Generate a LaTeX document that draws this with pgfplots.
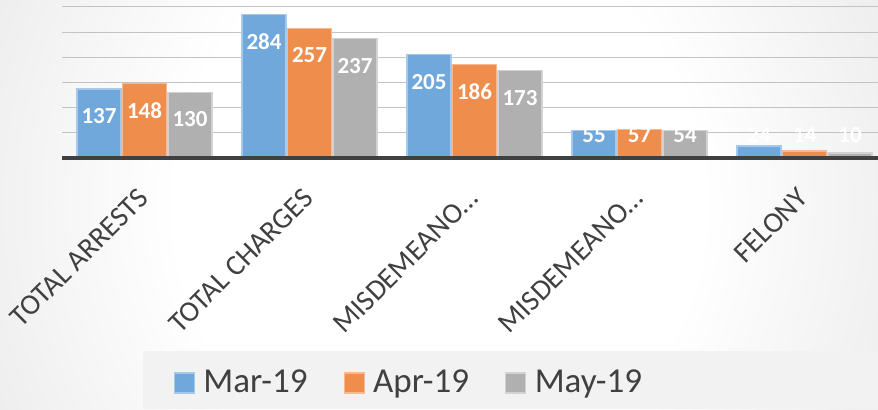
\documentclass[border=0pt]{standalone}
\usepackage{fontspec}
\setmainfont{Carlito}
\usepackage{pgfplots}
\pgfplotsset{compat=1.18}

\definecolor{cblue}{RGB}{112,168,220}
\definecolor{cblueb}{RGB}{165,200,235}
\definecolor{corange}{RGB}{239,141,76}
\definecolor{coranb}{RGB}{247,185,145}
\definecolor{cgray}{RGB}{176,176,176}
\definecolor{cgrayb}{RGB}{210,210,210}
\definecolor{textgray}{RGB}{64,64,64}
\definecolor{gridgray}{RGB}{195,195,195}
\definecolor{axisdark}{RGB}{64,64,64}
\definecolor{bgedge}{RGB}{207,207,207}
\definecolor{bgcorner}{RGB}{199,199,199}

\pgfdeclareradialshading{bgshade}{\pgfpoint{0bp}{0bp}}{%
  color(0bp)=(white); color(15bp)=(white); color(50bp)=(bgedge); color(80bp)=(bgcorner)}

\pgfplotsset{lbl/.style={only marks, mark=*, mark size=0pt, mark options={draw=none, fill=none},
  forget plot, nodes near coords, point meta=explicit symbolic,
  nodes near coords style={anchor=center, text=white,
    font=\bfseries\fontsize{11.5pt}{12pt}\selectfont, xshift=#1}}}

\begin{document}
\begin{tikzpicture}
\useasboundingbox (0pt,0pt) rectangle (439pt,204.5pt);
\begin{scope}
\clip (0pt,0pt) rectangle (439pt,204.5pt);
\shade[shading=bgshade] (0pt,-125pt) rectangle (439pt,330pt);
\fill[black!5] (71.5pt,0pt) rectangle (439pt,29pt);

\begin{axis}[
  at={(31pt,125.5pt)}, anchor=south west,
  scale only axis, width=412.5pt, height=88.2pt,
  xmin=-0.5, xmax=4.5, ymin=0, ymax=350,
  axis line style={draw=none},
  xtick={0,...,4},
  xticklabels={TOTAL ARRESTS,TOTAL CHARGES,MISDEMEANO…,MISDEMEANO…,FELONY},
  xtick style={draw=none},
  x tick label style={xshift=-4pt, yshift=-14pt, rotate=45, anchor=north east,
    inner sep=0pt, font=\fontsize{14.5pt}{16pt}\selectfont, text=textgray},
  ytick={50,100,...,350},
  yticklabels={},
  ytick style={draw=none},
  ymajorgrids,
  major grid style={draw=gridgray, line width=0.5pt},
  legend image code/.code={\draw[#1] (0pt,-5pt) rectangle (10pt,5pt);
    \path[draw=none, fill=none] (10pt,0pt) -- (12.5pt,0pt);},
  legend columns=3,
  legend style={at={(0.4218,-1.2755)}, anchor=center, draw=none, fill=none,
    font=\fontsize{17.5pt}{19pt}\selectfont, text=textgray,
    /tikz/every even column/.append style={column sep=16pt}},
  clip=false,
]
% bars
\addplot[ybar, bar width=22pt, bar shift=-22.75pt, fill=cblue, draw=cblueb, line width=0.6pt, forget plot]
  coordinates {(0,137) (1,284) (2,205) (3,55) (4,24)};
\addplot[ybar, bar width=22pt, bar shift=0pt, fill=corange, draw=coranb, line width=0.6pt, forget plot]
  coordinates {(0,148) (1,257) (2,186) (3,57) (4,14)};
\addplot[ybar, bar width=22pt, bar shift=22.75pt, fill=cgray, draw=cgrayb, line width=0.6pt, forget plot]
  coordinates {(0,130) (1,237) (2,173) (3,54) (4,10)};

% value labels
\addplot[lbl=-22.75pt] table[meta=lab] {
x y lab
0 83.4 137
1 230.4 284
2 151.4 205
3 45.6 55
4 45.6 24
};
\addplot[lbl=0pt] table[meta=lab] {
x y lab
0 94.4 148
1 203.4 257
2 132.4 186
3 45.6 57
4 45.6 14
};
\addplot[lbl=22.75pt] table[meta=lab] {
x y lab
0 76.4 130
1 183.4 237
2 119.4 173
3 45.6 54
4 45.6 10
};

\draw[axisdark, line width=1.6pt] (axis cs:-0.5,0) -- (axis cs:4.5,0);

\addlegendimage{fill=cblue, draw=cblueb, line width=0.6pt}
\addlegendentry{Mar-19}
\addlegendimage{fill=corange, draw=coranb, line width=0.6pt}
\addlegendentry{Apr-19}
\addlegendimage{fill=cgray, draw=cgrayb, line width=0.6pt}
\addlegendentry{May-19}
\end{axis}
\end{scope}
\end{tikzpicture}
\end{document}
